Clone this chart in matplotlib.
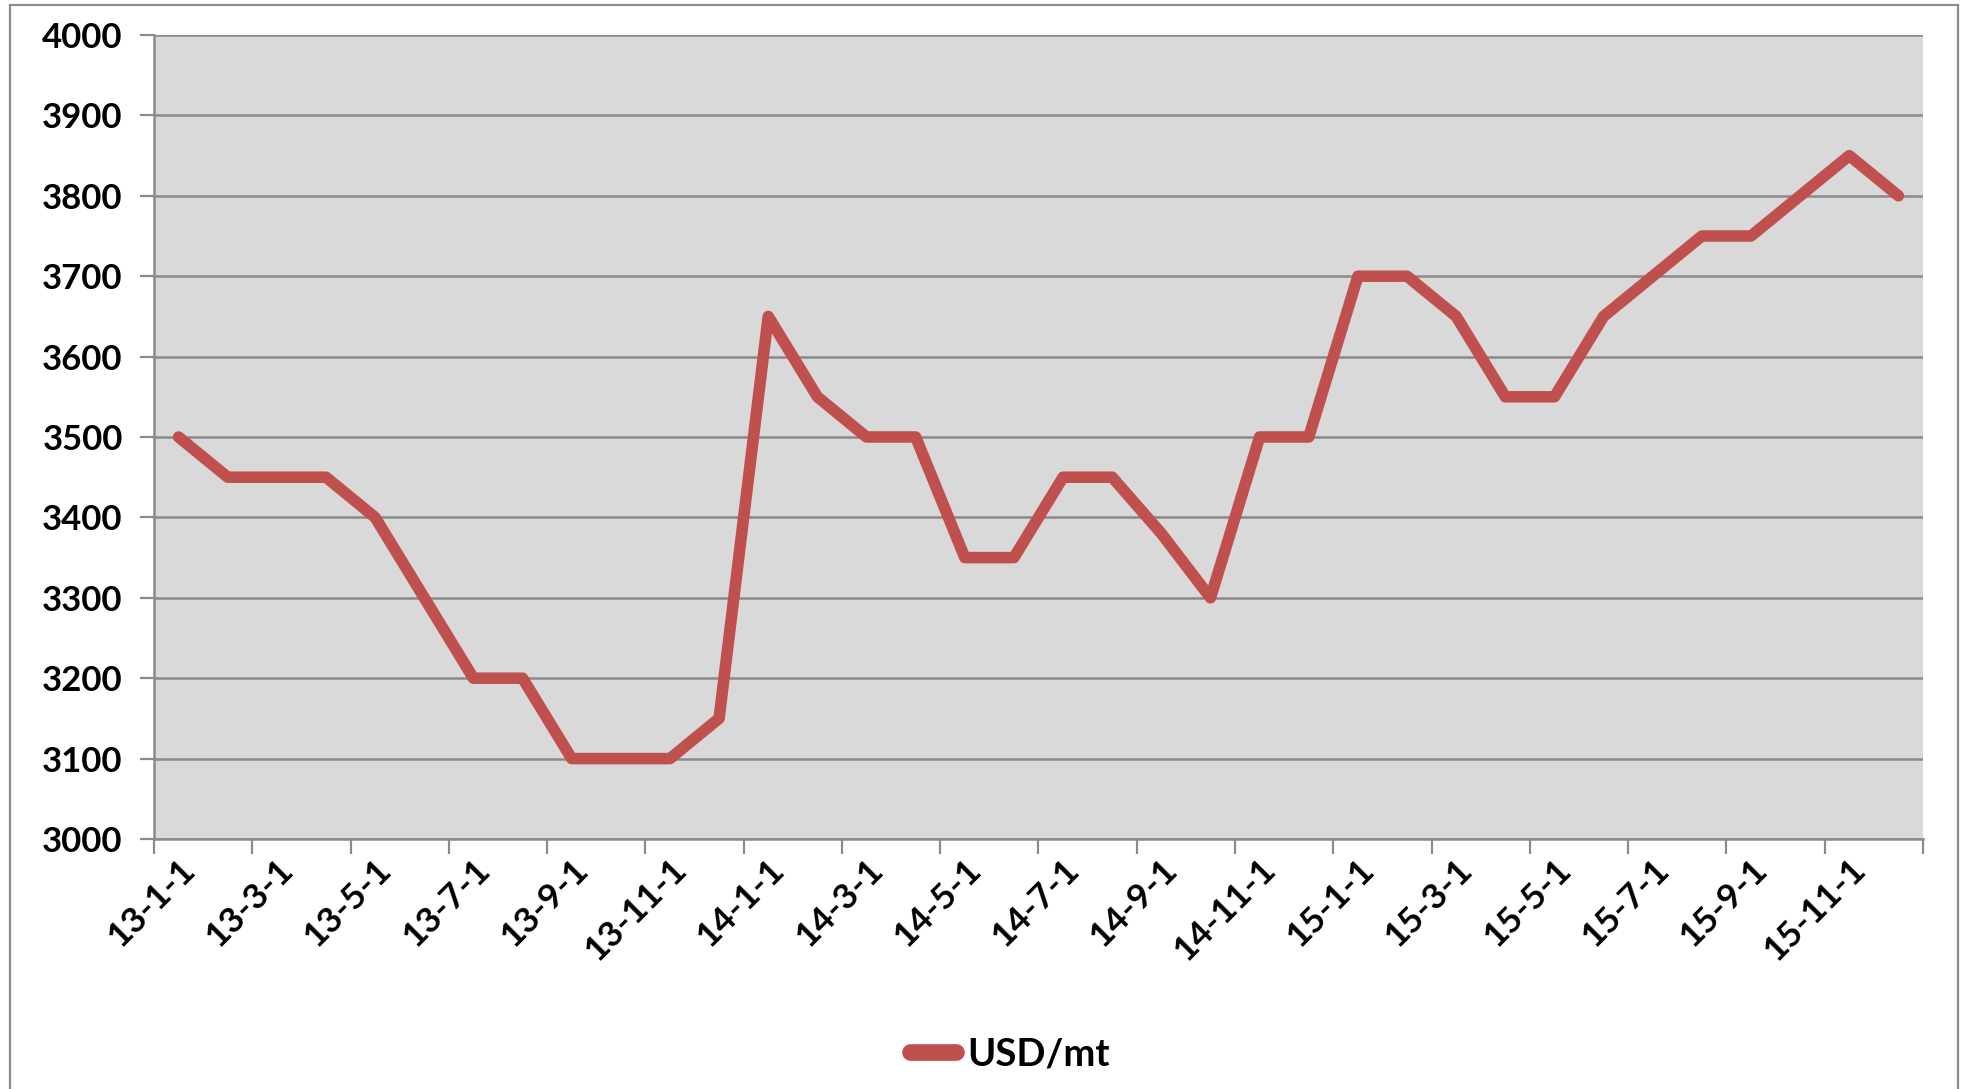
import matplotlib
matplotlib.use("Agg")
import matplotlib.pyplot as plt
from matplotlib.patches import Rectangle
from matplotlib.ticker import FixedLocator
from matplotlib.transforms import ScaledTranslation

plt.rcParams['font.family'] = ['Lato', 'DejaVu Sans']

# ---- data ----
months = [f"{y}-{m}-1" for y in (13, 14, 15) for m in range(1, 13)]
prices = [3500, 3450, 3450, 3450, 3400, 3300, 3200, 3200, 3100, 3100, 3100, 3150,
          3650, 3550, 3500, 3500, 3350, 3350, 3450, 3450, 3380, 3300, 3500, 3500,
          3700, 3700, 3650, 3550, 3550, 3650, 3700, 3750, 3750, 3800, 3850, 3800]
series_name = "USD/mt"
y_ticks = [3000, 3100, 3200, 3300, 3400, 3500, 3600, 3700, 3800, 3900, 4000]

W, H = 1964, 1089
fig = plt.figure(figsize=(W / 100, H / 100), dpi=100)
fig.patch.set_facecolor("white")

# outer chart border
fig.add_artist(Rectangle((10 / W, -0.05), (1958 - 10) / W, 1 - 5 / H + 0.05,
                         transform=fig.transFigure, fill=False,
                         edgecolor="#8c8c8c", linewidth=1.6))

left, right, top, bottom = 154, 1923, 35, 839
ax = fig.add_axes([left / W, 1 - bottom / H, (right - left) / W, (bottom - top) / H])
ax.set_facecolor("#d9d9d9")

x = list(range(len(months)))
ax.plot(x, prices, color="#c0504d", linewidth=8.3, solid_capstyle="round",
        solid_joinstyle="round", label=series_name, zorder=3)

ax.set_xlim(-0.5, len(months) - 0.5)
ax.set_ylim(3000, 4000)
ax.set_yticks(y_ticks)
ax.set_yticklabels([str(v) for v in y_ticks], fontsize=25, fontweight="bold")

for v in y_ticks:
    ax.axhline(v, color="#8a8a8a", linewidth=1.8, zorder=1)

# x: labels every 2 categories at centers, tick marks at boundaries
ax.set_xticks(x[::2])
ax.set_xticklabels(months[::2], rotation=45, ha="right", va="top",
                   rotation_mode="anchor", fontsize=25.5, fontweight="bold")
shift = ScaledTranslation(9 / 100, 0, fig.dpi_scale_trans)
for lbl in ax.get_xticklabels():
    lbl.set_transform(lbl.get_transform() + shift)
ax.xaxis.set_minor_locator(FixedLocator([i - 0.5 for i in range(0, len(months) + 1, 2)]))
ax.tick_params(axis="x", which="major", length=0, pad=10)
ax.tick_params(axis="x", which="minor", length=11, width=1.6, color="#8a8a8a", direction="out")
ax.tick_params(axis="y", which="major", length=10, width=1.6, color="#8a8a8a", pad=12.5)

for s in ("top", "right"):
    ax.spines[s].set_visible(False)
for s in ("left", "bottom"):
    ax.spines[s].set_color("#8a8a8a")
    ax.spines[s].set_linewidth(1.8)

leg = fig.legend(loc="center", bbox_to_anchor=(1010 / W, 1 - 1054 / H), frameon=False,
                 handlelength=1.2, handletextpad=0.3,
                 prop={"weight": "bold", "size": 27.5})
for line in leg.get_lines():
    line.set_linewidth(12)

fig.savefig("out.png", dpi=100)
